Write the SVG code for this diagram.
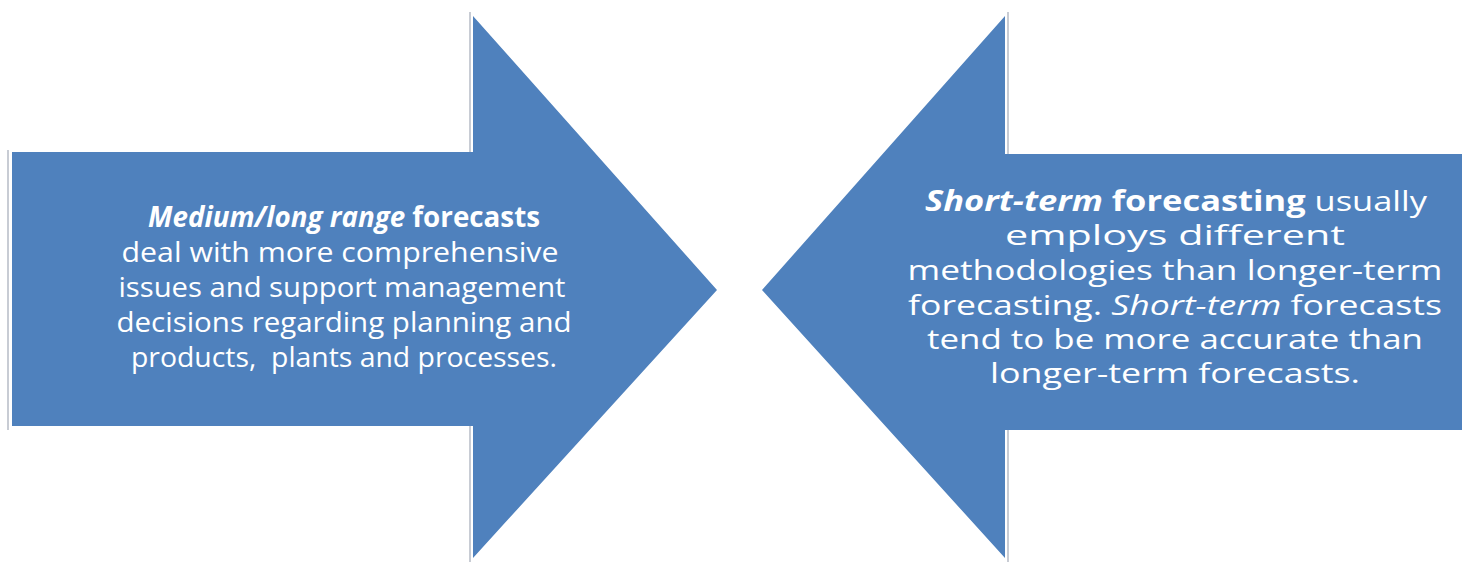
<svg xmlns="http://www.w3.org/2000/svg" width="1464" height="569" viewBox="0 0 1464 569">
  <style>
    .arrow { fill: #4f81bd; }
    .edge { stroke: #c8ccd4; stroke-width: 2; fill: none; }
    .label { font-family: "Open Sans", "Liberation Sans", sans-serif; font-size: 28px; fill: #ffffff; text-anchor: middle; }
    .b { font-weight: bold; }
    .i { font-style: italic; }
  </style>
  <rect width="1464" height="569" fill="#ffffff"/>

  <!-- right-pointing block arrow -->
  <g id="arrow-medium-long">
    <line class="edge" x1="8" y1="150" x2="8" y2="430"/>
    <line class="edge" x1="470" y1="12" x2="470" y2="562"/>
    <polygon class="arrow" points="12,152 473,152 473,16 717,290 473,558 473,426 12,426"/>
    <text class="label" x="344" y="227" textLength="392" lengthAdjust="spacingAndGlyphs"><tspan class="b i">Medium/long range</tspan><tspan class="b"> forecasts</tspan></text>
    <text class="label" x="340" y="262" textLength="437" lengthAdjust="spacingAndGlyphs">deal with more comprehensive</text>
    <text class="label" x="342" y="297" textLength="447" lengthAdjust="spacingAndGlyphs">issues and support management</text>
    <text class="label" x="344" y="332" textLength="455" lengthAdjust="spacingAndGlyphs">decisions regarding planning and</text>
    <text class="label" x="344" y="367" textLength="426" lengthAdjust="spacingAndGlyphs" xml:space="preserve">products,  plants and processes.</text>
  </g>

  <!-- left-pointing block arrow -->
  <g id="arrow-short">
    <line class="edge" x1="1008" y1="12" x2="1008" y2="562"/>
    <polygon class="arrow" points="1462,154 1005,154 1005,16 762,290 1005,558 1005,430 1462,430"/>
    <text class="label" x="1176" y="211" textLength="502" lengthAdjust="spacingAndGlyphs"><tspan class="b i">Short-term</tspan><tspan class="b"> forecasting</tspan> usually</text>
    <text class="label" x="1175" y="245" textLength="340" lengthAdjust="spacingAndGlyphs">employs different</text>
    <text class="label" x="1175" y="280" textLength="535" lengthAdjust="spacingAndGlyphs">methodologies than longer-term</text>
    <text class="label" x="1175" y="315" textLength="534" lengthAdjust="spacingAndGlyphs">forecasting. <tspan class="i">Short-term</tspan> forecasts</text>
    <text class="label" x="1175" y="349" textLength="496" lengthAdjust="spacingAndGlyphs">tend to be more accurate than</text>
    <text class="label" x="1175" y="383" textLength="370" lengthAdjust="spacingAndGlyphs">longer-term forecasts.</text>
  </g>
</svg>
